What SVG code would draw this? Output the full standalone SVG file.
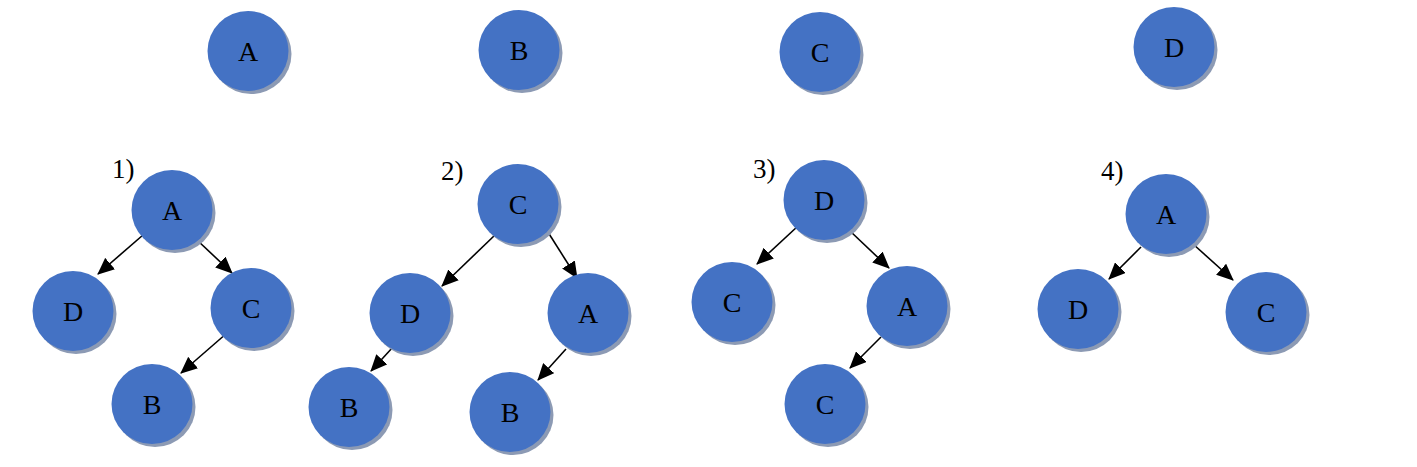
<svg xmlns="http://www.w3.org/2000/svg" width="1417" height="467" viewBox="0 0 1417 467">
<style>
.sh{fill:#8C9AB4}
.nd{fill:#4472C4}
.t{font-family:"Liberation Serif","Times New Roman",serif;font-size:28px;fill:#000;text-anchor:middle}
.lb{font-family:"Liberation Serif","Times New Roman",serif;font-size:27px;fill:#000}
.e{stroke:#000;stroke-width:1.6;fill:none;marker-end:url(#ah)}
</style>
<defs>
<marker id="ah" markerUnits="userSpaceOnUse" markerWidth="17" markerHeight="15" refX="16" refY="7.5" orient="auto">
<path d="M0,0 L17,7.5 L0,15 z" fill="#000"/>
</marker>
<g id="n"><ellipse class="sh" cx="3" cy="3" rx="40.5" ry="40"/><ellipse class="nd" cx="0" cy="0" rx="40.5" ry="40"/></g>
</defs>
<rect width="1417" height="467" fill="#fff"/>
<g id="connectors">
<line class="e" x1="143" y1="235" x2="98" y2="274"/>
<line class="e" x1="197" y1="240" x2="232" y2="273"/>
<line class="e" x1="227" y1="333" x2="181" y2="373"/>
<line class="e" x1="495" y1="235" x2="442" y2="286"/>
<line class="e" x1="546" y1="229" x2="577" y2="278"/>
<line class="e" x1="393" y1="347" x2="371" y2="371"/>
<line class="e" x1="566" y1="349" x2="538" y2="380"/>
<line class="e" x1="798" y1="226" x2="757" y2="264"/>
<line class="e" x1="850" y1="231" x2="889" y2="268"/>
<line class="e" x1="881" y1="337" x2="850" y2="368"/>
<line class="e" x1="1141" y1="247" x2="1109" y2="279"/>
<line class="e" x1="1193" y1="244" x2="1233" y2="280"/>
</g>
<g id="top-A"><use href="#n" x="248" y="51"/><text class="t" x="248" y="61">A</text></g>
<g id="top-B"><use href="#n" x="519" y="50"/><text class="t" x="519" y="60">B</text></g>
<g id="top-C"><use href="#n" x="820" y="52"/><text class="t" x="820" y="62">C</text></g>
<g id="top-D"><use href="#n" x="1174" y="47"/><text class="t" x="1174" y="57">D</text></g>
<text class="lb" x="112" y="178">1)</text>
<text class="lb" x="441" y="180">2)</text>
<text class="lb" x="753" y="178">3)</text>
<text class="lb" x="1101" y="180">4)</text>
<g id="t1-A"><use href="#n" x="172" y="210"/><text class="t" x="172" y="220">A</text></g>
<g id="t1-D"><use href="#n" x="73" y="311"/><text class="t" x="73" y="321">D</text></g>
<g id="t1-C"><use href="#n" x="251" y="308"/><text class="t" x="251" y="318">C</text></g>
<g id="t1-B"><use href="#n" x="152" y="404"/><text class="t" x="152" y="414">B</text></g>
<g id="t2-C"><use href="#n" x="518" y="204"/><text class="t" x="518" y="214">C</text></g>
<g id="t2-D"><use href="#n" x="410" y="313"/><text class="t" x="410" y="323">D</text></g>
<g id="t2-A"><use href="#n" x="588" y="313"/><text class="t" x="588" y="323">A</text></g>
<g id="t2-B1"><use href="#n" x="349" y="407"/><text class="t" x="349" y="417">B</text></g>
<g id="t2-B2"><use href="#n" x="510" y="412"/><text class="t" x="510" y="422">B</text></g>
<g id="t3-D"><use href="#n" x="824" y="200"/><text class="t" x="824" y="210">D</text></g>
<g id="t3-C1"><use href="#n" x="732" y="302"/><text class="t" x="732" y="312">C</text></g>
<g id="t3-A"><use href="#n" x="907" y="306"/><text class="t" x="907" y="316">A</text></g>
<g id="t3-C2"><use href="#n" x="825" y="404"/><text class="t" x="825" y="414">C</text></g>
<g id="t4-A"><use href="#n" x="1166" y="214"/><text class="t" x="1166" y="224">A</text></g>
<g id="t4-D"><use href="#n" x="1078" y="309"/><text class="t" x="1078" y="319">D</text></g>
<g id="t4-C"><use href="#n" x="1266" y="312"/><text class="t" x="1266" y="322">C</text></g>
</svg>
